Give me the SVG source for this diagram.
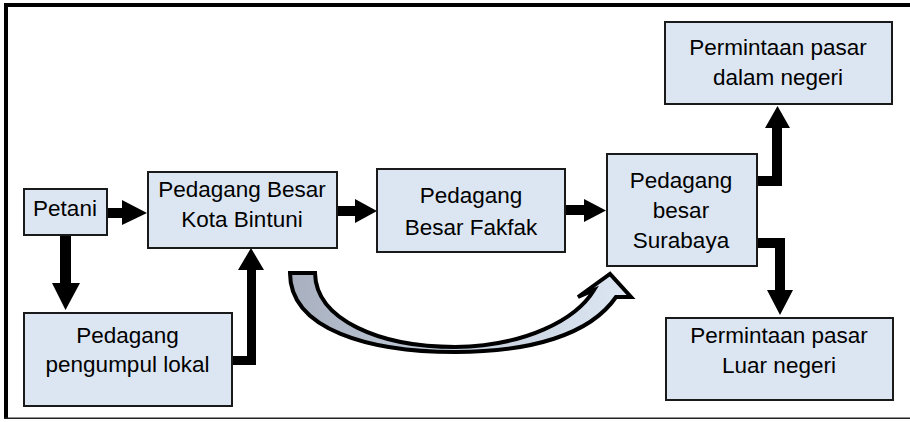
<svg xmlns="http://www.w3.org/2000/svg" width="910" height="422" viewBox="0 0 910 422">
<defs>
<style>
.box{fill:#dce6f2;stroke:#1a1a1a;stroke-width:2}
.t{font-family:"Liberation Sans",Arial,sans-serif;font-size:22.5px;fill:#000;text-anchor:middle}
.arr{fill:#000}
</style>
<linearGradient id="g" x1="0" y1="0" x2="1" y2="0">
<stop offset="0" stop-color="#a8b0bf"/>
<stop offset="0.5" stop-color="#c4cedb"/>
<stop offset="1" stop-color="#dde7f3"/>
</linearGradient>
</defs>
<rect x="0" y="0" width="910" height="422" fill="#fff"/>
<g id="frame">
<rect x="4" y="3" width="906" height="4" fill="#000"/>
<rect x="4" y="3" width="4" height="416" fill="#000"/>
<rect x="4" y="417.5" width="906" height="1.5" fill="#222"/>
</g>
<g id="connectors">
<path class="arr" d="M107,208 L122,208 L122,200 L147,213 L122,225 L122,218 L107,218 Z"/>
<path class="arr" d="M338,206 L355,206 L355,199 L377,211 L355,223 L355,216 L338,216 Z"/>
<path class="arr" d="M566,205 L584,205 L584,199 L606,210.5 L584,222 L584,215 L566,215 Z"/>
<path class="arr" d="M60,235 L71,235 L71,283 L80,283 L65.5,310 L52,283 L60,283 Z"/>
<path class="arr" d="M232,356 L247,356 L247,270 L238,270 L251,248 L264,270 L256,270 L256,365 L232,365 Z"/>
<path class="arr" d="M757,176 L772,176 L772,128 L765,128 L777.5,106 L790,128 L782,128 L782,186 L757,186 Z"/>
<path class="arr" d="M757,238 L785,238 L785,290 L793,290 L780,315 L767,290 L775,290 L775,248 L757,248 Z"/>
<path d="M290,273 C290,330 370,352 455,352 C530,352 590,335 616,297 L631,297 L610,274 L578,297 L594,290 C576,320 525,346 455,347 C380,347 316,320 315,273 Z" fill="url(#g)" stroke="#000" stroke-width="4" stroke-linejoin="miter"/>
</g>
<g id="petani">
<rect class="box" x="24" y="189" width="83" height="46"/>
<text class="t" x="65" y="216">Petani</text>
</g>
<g id="bintuni">
<rect class="box" x="148" y="172" width="189" height="76"/>
<text class="t" x="242" y="197">Pedagang Besar</text>
<text class="t" x="242" y="227">Kota Bintuni</text>
</g>
<g id="pengumpul">
<rect class="box" x="24" y="313" width="208" height="93"/>
<text class="t" x="127.5" y="343">Pedagang</text>
<text class="t" x="127.5" y="372">pengumpul lokal</text>
</g>
<g id="fakfak">
<rect class="box" x="377" y="169" width="188" height="83"/>
<text class="t" x="471" y="203">Pedagang</text>
<text class="t" x="471" y="235">Besar Fakfak</text>
</g>
<g id="surabaya">
<rect class="box" x="607" y="154" width="150" height="112"/>
<text class="t" x="681" y="188">Pedagang</text>
<text class="t" x="681" y="218">besar</text>
<text class="t" x="681" y="248">Surabaya</text>
</g>
<g id="dalam">
<rect class="box" x="665" y="22" width="227" height="82"/>
<text class="t" x="778" y="55">Permintaan pasar</text>
<text class="t" x="778" y="85">dalam negeri</text>
</g>
<g id="luar">
<rect class="box" x="666" y="318" width="227" height="82"/>
<text class="t" x="779" y="343">Permintaan pasar</text>
<text class="t" x="779" y="373">Luar negeri</text>
</g>
</svg>
